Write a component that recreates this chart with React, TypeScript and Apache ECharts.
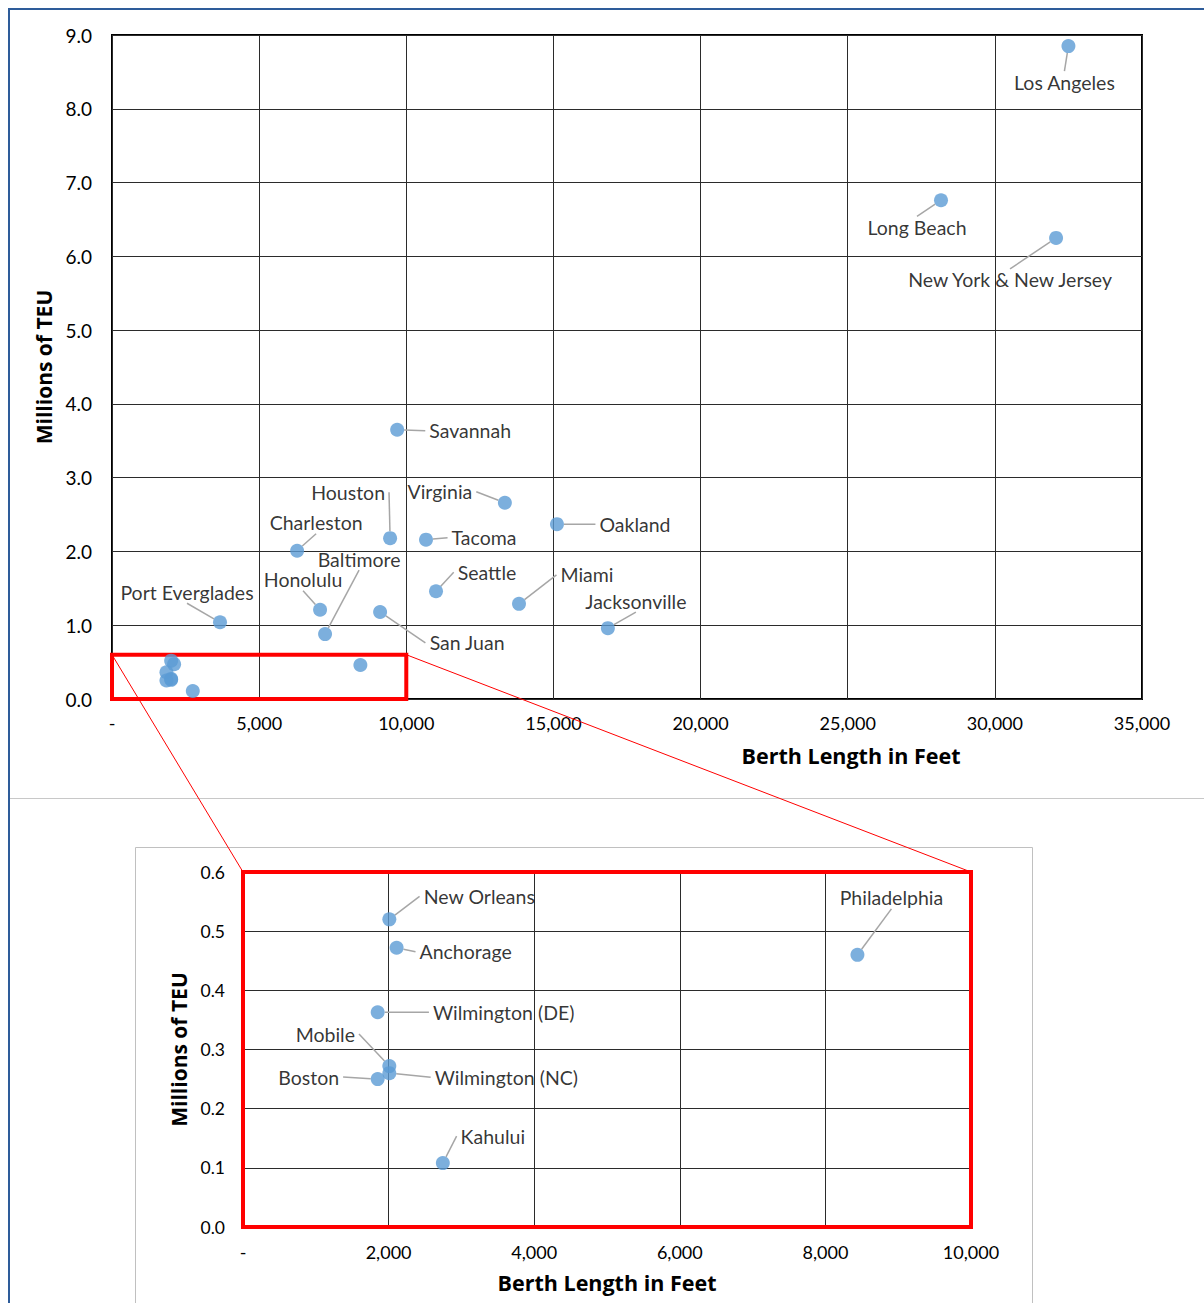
import React, { useEffect, useRef } from "react";
import * as echarts from "echarts";

// ---- Data (berth length in feet, throughput in millions of TEU) ----
const largePorts = [
  "Los Angeles", "Long Beach", "New York & New Jersey", "Savannah", "Virginia", "Oakland",
  "Houston", "Tacoma", "Charleston", "Seattle", "Miami", "Honolulu", "San Juan",
  "Port Everglades", "Jacksonville", "Baltimore",
];
const largeBerthFeet = [
  32500, 28170, 32080, 9690, 13350, 15120,
  9450, 10670, 6290, 11010, 13830, 7070, 9110,
  3670, 16850, 7240,
];
const largeTeuMillions = [
  8.85, 6.76, 6.25, 3.65, 2.66, 2.37,
  2.18, 2.16, 2.01, 1.46, 1.29, 1.21, 1.18,
  1.04, 0.96, 0.88,
];

const smallPorts = [
  "New Orleans", "Anchorage", "Wilmington (DE)", "Mobile", "Wilmington (NC)", "Boston",
  "Kahului", "Philadelphia",
];
const smallBerthFeet = [2010, 2110, 1850, 2010, 2010, 1850, 2745, 8440];
const smallTeuMillions = [0.52, 0.472, 0.363, 0.272, 0.26, 0.25, 0.108, 0.46];

// zoom window shown in the lower chart
const zoomMaxFeet = 10000;
const zoomMaxTeu = 0.6;

// ---- Label placement (pixel offsets from point to label centre) ----
const labelOffsets: Record<string, [number, number]> = {
  "Los Angeles": [-4, 36],
  "Long Beach": [-24, 27],
  "New York & New Jersey": [-46, 42],
  Savannah: [73, 1],
  Virginia: [-65, -11],
  Oakland: [78, 0],
  Houston: [-42, -46],
  Tacoma: [58, -2],
  Charleston: [19, -28],
  Seattle: [51, -19],
  Miami: [68, -29],
  Honolulu: [-17, -30],
  "San Juan": [87, 31],
  "Port Everglades": [-33, -30],
  Jacksonville: [28, -27],
  Baltimore: [34, -75],
  "New Orleans": [90, -23],
  Anchorage: [69, 4],
  "Wilmington (DE)": [126, 0],
  Mobile: [-64, -32],
  "Wilmington (NC)": [117, 4],
  Boston: [-69, -2],
  Kahului: [50, -27],
  Philadelphia: [34, -57],
};

const FONT = 'Lato, "Open Sans", "DejaVu Sans", sans-serif';
const TITLE_FONT = '"Open Sans", Lato, sans-serif';
const DOT = "#5b9bd5";
const GRIDLINE = "#2b2b2b";

const fmtFeet = (v: number) => (v === 0 ? "-" : v.toLocaleString("en-US"));

export default function App() {
  const ref = useRef<HTMLDivElement>(null);

  useEffect(() => {
    if (!ref.current) return;
    const chart = echarts.init(ref.current, undefined, { renderer: "svg" });

    const upperData = [
      ...largePorts.map((n, i) => ({ name: n, value: [largeBerthFeet[i], largeTeuMillions[i]] })),
      ...smallPorts.map((n, i) => ({
        name: n,
        value: [smallBerthFeet[i], smallTeuMillions[i]],
        label: { show: false },
        labelLine: { show: false },
      })),
    ];
    const lowerData = smallPorts.map((n, i) => ({ name: n, value: [smallBerthFeet[i], smallTeuMillions[i]] }));

    const labelCommon = {
      show: true,
      position: "inside" as const,
      formatter: "{b}",
      color: "#000",
      fontFamily: FONT,
      fontSize: 19.5,
      lineHeight: 20,
      textBorderWidth: 0,
      backgroundColor: "rgba(255,255,255,0)",
      padding: [1, 4, 1, 4],
    };
    const labelLineCommon = { show: true, lineStyle: { color: "#a6a6a6", width: 1.5 } };

    const mkLayout = (data: { name: string }[]) => (params: any) => {
      const d = data[params.dataIndex];
      const off = d && labelOffsets[d.name];
      if (!off) return {};
      return { dx: off[0], dy: off[1] };
    };

    const axisLabelStyle = { color: "#000", fontFamily: FONT, fontSize: 18 };
    const axisNameStyle = { color: "#000", fontFamily: TITLE_FONT, fontSize: 21, fontWeight: "bold" as const };

    const option: any = {
      animation: false,
      grid: [
        { left: 112, top: 35, width: 1030, height: 664, show: true, borderColor: "#000", borderWidth: 2, backgroundColor: "transparent" },
        { left: 243, top: 872, width: 728, height: 355, show: false },
      ],
      xAxis: [
        {
          gridIndex: 0, type: "value", min: 0, max: 35000, interval: 5000,
          axisLine: { show: false }, axisTick: { show: false },
          splitLine: { show: true, lineStyle: { color: GRIDLINE, width: 1 } },
          axisLabel: { ...axisLabelStyle, margin: 15, formatter: fmtFeet },
        },
        {
          gridIndex: 1, type: "value", min: 0, max: 10000, interval: 2000,
          axisLine: { show: false }, axisTick: { show: false },
          splitLine: { show: true, lineStyle: { color: GRIDLINE, width: 1 } },
          axisLabel: { ...axisLabelStyle, margin: 16, formatter: fmtFeet },
          name: "Berth Length in Feet", nameLocation: "middle", nameGap: 44,
          nameTextStyle: { ...axisNameStyle, fontSize: 21.5 },
        },
      ],
      yAxis: [
        {
          gridIndex: 0, type: "value", min: 0, max: 9, interval: 1,
          axisLine: { show: false }, axisTick: { show: false },
          splitLine: { show: true, lineStyle: { color: GRIDLINE, width: 1 } },
          axisLabel: { ...axisLabelStyle, fontSize: 19, margin: 20, formatter: (v: number) => v.toFixed(1) },
          name: "Millions of TEU", nameLocation: "middle", nameRotate: 90, nameGap: 53,
          nameTextStyle: axisNameStyle,
        },
        {
          gridIndex: 1, type: "value", min: 0, max: 0.6, interval: 0.1,
          axisLine: { show: false }, axisTick: { show: false },
          splitLine: { show: true, lineStyle: { color: GRIDLINE, width: 1 } },
          axisLabel: { ...axisLabelStyle, fontSize: 17.5, margin: 18, formatter: (v: number) => v.toFixed(1) },
          name: "Millions of TEU", nameLocation: "middle", nameRotate: 90, nameGap: 52,
          nameTextStyle: axisNameStyle,
        },
      ],
      series: [
        {
          type: "scatter", xAxisIndex: 0, yAxisIndex: 0,
          symbolSize: 14, itemStyle: { color: DOT },
          data: upperData,
          label: labelCommon,
          labelLine: labelLineCommon,
          labelLayout: mkLayout(upperData),
          markArea: {
            silent: true,
            itemStyle: { color: "rgba(0,0,0,0)", borderColor: "#ff0000", borderWidth: 4 },
            data: [[{ coord: [0, 0] }, { coord: [zoomMaxFeet, zoomMaxTeu] }]],
          },
          z: 3,
        },
        {
          type: "scatter", xAxisIndex: 1, yAxisIndex: 1,
          symbolSize: 14, itemStyle: { color: DOT },
          data: lowerData,
          label: labelCommon,
          labelLine: labelLineCommon,
          labelLayout: mkLayout(lowerData),
          markArea: {
            silent: true,
            itemStyle: { color: "rgba(0,0,0,0)", borderColor: "#ff0000", borderWidth: 4 },
            data: [[{ coord: [0, 0] }, { coord: [zoomMaxFeet, zoomMaxTeu] }]],
          },
          z: 3,
        },
      ],
    };
    chart.setOption(option);

    const p0 = chart.convertToPixel({ xAxisIndex: 0, yAxisIndex: 0 } as any, [0, zoomMaxTeu]) as number[];
    const p1 = chart.convertToPixel({ xAxisIndex: 0, yAxisIndex: 0 } as any, [zoomMaxFeet, zoomMaxTeu]) as number[];
    const q0 = chart.convertToPixel({ xAxisIndex: 1, yAxisIndex: 1 } as any, [0, zoomMaxTeu]) as number[];
    const q1 = chart.convertToPixel({ xAxisIndex: 1, yAxisIndex: 1 } as any, [zoomMaxFeet, zoomMaxTeu]) as number[];

    chart.setOption({
      graphic: [
        { type: "rect", z: 0, silent: true, shape: { x: 9, y: 9, width: 1400, height: 1400 }, style: { fill: "none", stroke: "#2e5c9a", lineWidth: 2 } },
        { type: "line", z: 0, silent: true, shape: { x1: 10, y1: 798.5, x2: 1204, y2: 798.5 }, style: { stroke: "#c8c8c8", lineWidth: 1 } },
        { type: "rect", z: 0, silent: true, shape: { x: 135.5, y: 847.5, width: 897, height: 600 }, style: { fill: "none", stroke: "#c0c0c0", lineWidth: 1 } },
        {
          type: "text", z: 10, x: 851, y: 755,
          style: {
            text: "Berth Length in Feet", fill: "#000", font: `bold 21.5px ${TITLE_FONT}`,
            textAlign: "center", textVerticalAlign: "middle",
          },
        },
        { type: "line", z: 20, silent: true, shape: { x1: p0[0], y1: p0[1], x2: q0[0], y2: q0[1] }, style: { stroke: "#ff0000", lineWidth: 1 } },
        { type: "line", z: 20, silent: true, shape: { x1: p1[0], y1: p1[1], x2: q1[0], y2: q1[1] }, style: { stroke: "#ff0000", lineWidth: 1 } },
      ],
    });

    return () => chart.dispose();
  }, []);

  return (
    <div
      ref={ref}
      style={{ position: "fixed", left: 0, top: 0, width: 1204, height: 1303, background: "#fff" }}
    />
  );
}
